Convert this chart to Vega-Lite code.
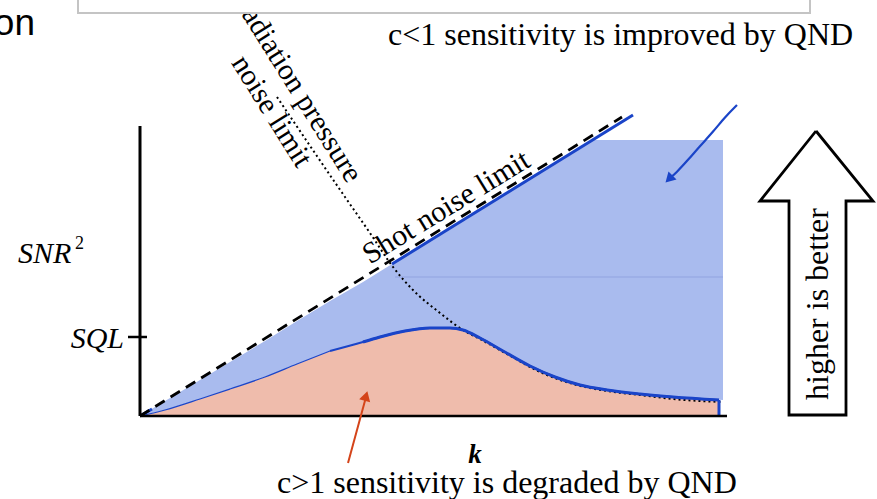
{
  "$schema": "https://vega.github.io/schema/vega-lite/v6.json",
  "width": 877,
  "height": 499,
  "padding": 0,
  "autosize": {"type": "none"},
  "background": "white",
  "config": {"view": {"stroke": null}},
  "datasets": {
    "blueFill": [
      {"x": 0, "y": 0, "y2": 0}, {"x": 25, "y": 15, "y2": 6}, {"x": 60, "y": 36, "y2": 17},
      {"x": 90, "y": 54, "y2": 27}, {"x": 125, "y": 75, "y2": 39}, {"x": 157, "y": 95, "y2": 52},
      {"x": 190, "y": 115, "y2": 65}, {"x": 223, "y": 134, "y2": 74}, {"x": 252, "y": 152, "y2": 82},
      {"x": 265, "y": 160, "y2": 85}, {"x": 290, "y": 175, "y2": 88}, {"x": 310, "y": 188, "y2": 88},
      {"x": 323, "y": 196, "y2": 86}, {"x": 340, "y": 206, "y2": 78}, {"x": 363, "y": 220, "y2": 65},
      {"x": 390, "y": 237, "y2": 50}, {"x": 415, "y": 253, "y2": 39}, {"x": 440, "y": 268, "y2": 31},
      {"x": 453, "y": 276, "y2": 29}, {"x": 467, "y": 276, "y2": 26}, {"x": 500, "y": 276, "y2": 22},
      {"x": 533, "y": 276, "y2": 19}, {"x": 583, "y": 276, "y2": 16}
    ],
    "curve": [
      {"x": 0, "y": 0}, {"x": 25, "y": 6}, {"x": 60, "y": 17}, {"x": 90, "y": 27},
      {"x": 125, "y": 39}, {"x": 157, "y": 52}, {"x": 190, "y": 65}, {"x": 223, "y": 74},
      {"x": 240, "y": 79}, {"x": 265, "y": 85}, {"x": 290, "y": 88}, {"x": 310, "y": 88},
      {"x": 323, "y": 86}, {"x": 340, "y": 78}, {"x": 363, "y": 65}, {"x": 390, "y": 50},
      {"x": 415, "y": 39}, {"x": 440, "y": 31}, {"x": 467, "y": 26}, {"x": 500, "y": 22},
      {"x": 533, "y": 19}, {"x": 579, "y": 16}
    ],
    "radiation": [
      {"x": 137, "y": 319}, {"x": 205, "y": 219}, {"x": 230, "y": 183}, {"x": 253, "y": 149},
      {"x": 273, "y": 126}, {"x": 300, "y": 103}, {"x": 323, "y": 86}, {"x": 340, "y": 77},
      {"x": 367, "y": 62}, {"x": 400, "y": 44}, {"x": 433, "y": 32}, {"x": 467, "y": 25},
      {"x": 500, "y": 21}, {"x": 533, "y": 17}, {"x": 582, "y": 14}
    ],
    "bigArrow": [
      {"o": 1, "x": 676, "y": 285}, {"o": 2, "x": 733, "y": 215}, {"o": 3, "x": 706, "y": 215},
      {"o": 4, "x": 706, "y": 1}, {"o": 5, "x": 649, "y": 1}, {"o": 6, "x": 649, "y": 215},
      {"o": 7, "x": 620, "y": 215}, {"o": 8, "x": 676, "y": 285}
    ],
    "blueArrow": [
      {"o": 1, "x": 597, "y": 311}, {"o": 2, "x": 585, "y": 299}, {"o": 3, "x": 573, "y": 284},
      {"o": 4, "x": 560, "y": 270}, {"o": 5, "x": 548, "y": 256}, {"o": 6, "x": 536, "y": 243},
      {"o": 7, "x": 530, "y": 238}
    ]
  },
  "encoding": {
    "x": {"field": "x", "type": "quantitative", "scale": {"domain": [-140, 737], "nice": false, "zero": false}, "axis": null},
    "y": {"field": "y", "type": "quantitative", "scale": {"domain": [-83, 416], "nice": false, "zero": false}, "axis": null}
  },
  "layer": [
    {
      "data": {"name": "curve"},
      "mark": {"type": "area", "color": "#efbcac", "interpolate": "monotone"},
      "encoding": {"y2": {"datum": 0}}
    },
    {
      "data": {"name": "blueFill"},
      "mark": {"type": "area", "color": "#a9bbee"},
      "encoding": {"y2": {"field": "y2"}}
    },
    {
      "data": {"values": [{"x": 255, "x2": 583, "y": 139}]},
      "mark": {"type": "rule", "color": "#7f90d8", "strokeWidth": 0.8, "opacity": 0.7},
      "encoding": {"x2": {"field": "x2"}}
    },
    {
      "data": {"name": "radiation"},
      "mark": {"type": "line", "color": "black", "strokeWidth": 2, "strokeDash": [2, 3], "interpolate": "monotone"},
      "encoding": {}
    },
    {
      "data": {"name": "curve"},
      "transform": [{"filter": "datum.x <= 215"}],
      "mark": {"type": "line", "color": "#1a44c8", "strokeWidth": 1.2, "interpolate": "monotone"},
      "encoding": {}
    },
    {
      "data": {"name": "curve"},
      "transform": [{"filter": "datum.x >= 190"}],
      "mark": {"type": "line", "color": "#1a44c8", "strokeWidth": 2, "interpolate": "monotone"},
      "encoding": {}
    },
    {
      "data": {"name": "curve"},
      "transform": [{"filter": "datum.x >= 223"}],
      "mark": {"type": "line", "color": "#1a44c8", "strokeWidth": 3, "interpolate": "monotone"},
      "encoding": {}
    },
    {
      "data": {"values": [{"x": 579, "y": 16, "y2": 0}]},
      "mark": {"type": "rule", "color": "#1a44c8", "strokeWidth": 3},
      "encoding": {"y2": {"field": "y2"}}
    },
    {
      "data": {"values": [{"x": 0, "y": 0}, {"x": 12, "y": 7}]},
      "mark": {"type": "line", "color": "#1a44c8", "strokeWidth": 3},
      "encoding": {}
    },
    {
      "data": {"values": [{"x": 252, "y": 152}, {"x": 493, "y": 301}]},
      "mark": {"type": "line", "color": "#1a44c8", "strokeWidth": 3},
      "encoding": {}
    },
    {
      "data": {"values": [{"x": 0, "y": 0}, {"x": 482, "y": 299}]},
      "mark": {"type": "line", "color": "black", "strokeWidth": 2.8, "strokeDash": [11, 7]},
      "encoding": {}
    },
    {
      "data": {"values": [{"x": 0, "y": 0, "y2": 290}]},
      "mark": {"type": "rule", "color": "black", "strokeWidth": 3},
      "encoding": {"y2": {"field": "y2"}}
    },
    {
      "data": {"values": [{"x": 0, "x2": 587, "y": 0}]},
      "mark": {"type": "rule", "color": "black", "strokeWidth": 2.5},
      "encoding": {"x2": {"field": "x2"}}
    },
    {
      "data": {"values": [{"x": -12, "x2": 7, "y": 79}]},
      "mark": {"type": "rule", "color": "black", "strokeWidth": 2.5},
      "encoding": {"x2": {"field": "x2"}}
    },
    {
      "data": {"name": "blueArrow"},
      "mark": {"type": "line", "color": "#1a44c8", "strokeWidth": 2.2, "interpolate": "basis"},
      "encoding": {"order": {"field": "o"}}
    },
    {
      "data": {"values": [{"x": 529, "y": 237}]},
      "mark": {"type": "point", "shape": "triangle-up", "filled": true, "color": "#1a44c8", "size": 130, "angle": 225, "opacity": 1},
      "encoding": {}
    },
    {
      "data": {"values": [{"x": 208, "y": -47}, {"x": 226, "y": 19}]},
      "mark": {"type": "line", "color": "#d4441a", "strokeWidth": 2},
      "encoding": {}
    },
    {
      "data": {"values": [{"x": 226, "y": 20}]},
      "mark": {"type": "point", "shape": "triangle-up", "filled": true, "color": "#d4441a", "size": 130, "angle": 16, "opacity": 1},
      "encoding": {}
    },
    {
      "data": {"name": "bigArrow"},
      "mark": {"type": "line", "color": "black", "strokeWidth": 2.8, "strokeJoin": "miter"},
      "encoding": {"order": {"field": "o"}}
    },
    {
      "data": {"values": [{"x": 688, "y": 112, "t": "higher is better"}]},
      "mark": {"type": "text", "font": "Liberation Serif", "fontSize": 32, "angle": 270, "align": "center", "baseline": "alphabetic", "color": "black"},
      "encoding": {"text": {"field": "t"}}
    },
    {
      "data": {"values": [
        {"x": 248, "y": 371, "t": "c<1 sensitivity is improved by QND"},
        {"x": 137, "y": -77, "t": "c>1 sensitivity is degraded by QND"}
      ]},
      "mark": {"type": "text", "font": "Liberation Serif", "fontSize": 32, "align": "left", "baseline": "alphabetic", "color": "black"},
      "encoding": {"text": {"field": "t"}}
    },
    {
      "data": {"values": [{"x": 311, "y": 201, "t": "Shot noise limit"}]},
      "mark": {"type": "text", "font": "Liberation Serif", "fontSize": 30, "angle": 328.5, "align": "center", "baseline": "alphabetic", "color": "black"},
      "encoding": {"text": {"field": "t"}}
    },
    {
      "data": {"values": [{"x": 149, "y": 325, "t": "Radiation pressure"}, {"x": 124, "y": 300, "t": "noise limit"}]},
      "mark": {"type": "text", "font": "Liberation Serif", "fontSize": 29.5, "angle": 58, "align": "center", "baseline": "alphabetic", "color": "black"},
      "encoding": {"text": {"field": "t"}}
    },
    {
      "data": {"values": [{"x": -122, "y": 153, "t": "SNR"}]},
      "mark": {"type": "text", "font": "Liberation Serif", "fontSize": 30, "fontStyle": "italic", "align": "left", "baseline": "alphabetic", "color": "black"},
      "encoding": {"text": {"field": "t"}}
    },
    {
      "data": {"values": [{"x": -65, "y": 167, "t": "2"}]},
      "mark": {"type": "text", "font": "Liberation Serif", "fontSize": 18, "align": "left", "baseline": "alphabetic", "color": "black"},
      "encoding": {"text": {"field": "t"}}
    },
    {
      "data": {"values": [{"x": -16, "y": 68, "t": "SQL"}]},
      "mark": {"type": "text", "font": "Liberation Serif", "fontSize": 30, "fontStyle": "italic", "align": "right", "baseline": "alphabetic", "color": "black"},
      "encoding": {"text": {"field": "t"}}
    },
    {
      "data": {"values": [{"x": 335, "y": -47, "t": "k"}]},
      "mark": {"type": "text", "font": "Liberation Serif", "fontSize": 27, "fontStyle": "italic", "fontWeight": "bold", "align": "center", "baseline": "alphabetic", "color": "black"},
      "encoding": {"text": {"field": "t"}}
    },
    {
      "data": {"values": [{"x": -105, "y": 381, "t": "on"}]},
      "mark": {"type": "text", "font": "Liberation Sans", "fontSize": 37, "align": "right", "baseline": "alphabetic", "color": "black"},
      "encoding": {"text": {"field": "t"}}
    },
    {
      "data": {"values": [{"x": -62, "x2": 670, "y": 403, "y2": 425}]},
      "mark": {"type": "rect", "fill": "white", "stroke": "#c4c4c4", "strokeWidth": 2},
      "encoding": {"x2": {"field": "x2"}, "y2": {"field": "y2"}}
    }
  ]
}
